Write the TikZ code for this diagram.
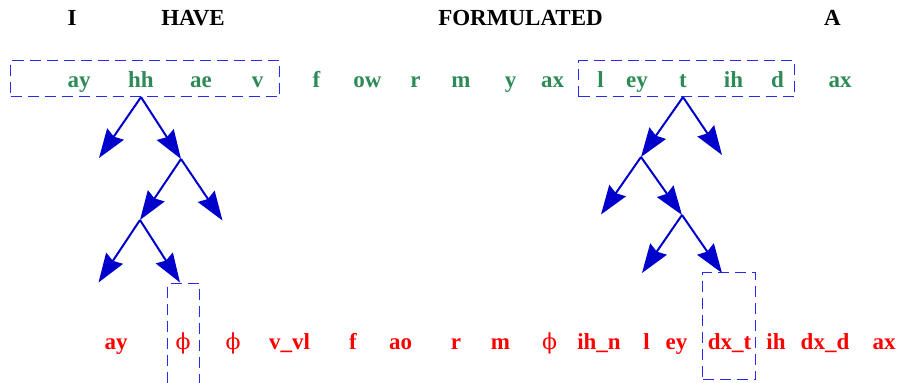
\documentclass[tikz,border=0pt]{standalone}
\usepackage{fontspec}
\setmainfont{Liberation Serif}
\newfontfamily\phifont{DejaVu Serif}
\usepackage{tikz}
\usetikzlibrary{arrows.meta}
\definecolor{PhoneGreen}{RGB}{46,139,87}
\definecolor{SurfRed}{RGB}{255,0,0}
\definecolor{TreeBlue}{RGB}{0,0,204}
\definecolor{BoxBlue}{RGB}{40,40,240}

\begin{document}
\begin{tikzpicture}[
            x=1pt, y=-1pt,
            word/.style={anchor=base, inner sep=0pt, font=\fontsize{23}{27}\selectfont\bfseries, text=black},
            phone/.style={word, text=PhoneGreen},
            surf/.style={word, text=SurfRed},
            nullph/.style={anchor=base, inner sep=0pt, font=\fontsize{22}{27}\selectfont\phifont, text=SurfRed},
            dbox/.style={draw=BoxBlue, line width=1.2pt, dash pattern=on 11pt off 6pt, inner sep=0pt},
            tarrow/.style={-{Stealth[length=29pt, width=20pt, inset=3pt]}, line width=2pt, TreeBlue}
        ]
            \useasboundingbox (0,0) rectangle (898,383);

            % dashed boxes
            \node[dbox, minimum width=269pt, minimum height=36pt] (wbox1) at (145,78.5) {};
            \node[dbox, minimum width=216pt, minimum height=36pt] (wbox2) at (686.5,78.5) {};
            \node[dbox, minimum width=32pt, minimum height=120pt] (sbox1) at (183.5,343.5) {};
            \node[dbox, minimum width=53pt, minimum height=107pt] (sbox2) at (729,326) {};

            % words
            \node[word] (wI) at (72,25) {I};
            \node[word] (wHAVE) at (193,25) {HAVE};
            \node[word] (wFORM) at (520.5,25) {FORMULATED};
            \node[word] (wA) at (832.5,25) {A};

            % dictionary phones
            \node[phone] (pay) at (79,87) {ay};
            \node[phone] (phh) at (141,87) {hh};
            \node[phone] (pae) at (201,87) {ae};
            \node[phone] (pv) at (257.5,87) {v};
            \node[phone] (pf) at (316.5,87) {f};
            \node[phone] (pow) at (367.5,87) {ow};
            \node[phone] (pr) at (415.5,87) {r};
            \node[phone] (pm) at (461,87) {m};
            \node[phone] (py) at (510.5,87) {y};
            \node[phone] (pax1) at (552.5,87) {ax};
            \node[phone] (pl) at (600.5,87) {l};
            \node[phone] (pey) at (637,87) {ey};
            \node[phone] (pt) at (683,87) {t};
            \node[phone] (pih) at (733.5,87) {ih};
            \node[phone] (pd) at (777.5,87) {d};
            \node[phone] (pax2) at (840,87) {ax};

            % surface phones
            \node[surf] (say) at (116,349) {ay};
            \node[nullph] (sphi1) at (183,349) {ϕ};
            \node[nullph] (sphi2) at (233,349) {ϕ};
            \node[surf] (svvl) at (289.5,349) {v\_vl};
            \node[surf] (sf) at (353,349) {f};
            \node[surf] (sao) at (400.5,349) {ao};
            \node[surf] (sr) at (456,349) {r};
            \node[surf] (sm) at (500.5,349) {m};
            \node[nullph] (sphi3) at (549.5,349) {ϕ};
            \node[surf] (sihn) at (599,349) {ih\_n};
            \node[surf] (sl) at (646.5,349) {l};
            \node[surf] (sey) at (676.5,349) {ey};
            \node[surf] (sdxt) at (729.5,349) {dx\_t};
            \node[surf] (sih) at (776,349) {ih};
            \node[surf] (sdxd) at (825,349) {dx\_d};
            \node[surf] (sax) at (884,349) {ax};

            % tree for HAVE
            \coordinate (t1root) at (phh |- wbox1.south);
            \coordinate (t1l) at (99,158);
            \coordinate (t1r) at (181,159);
            \coordinate (t1rl) at (140,220);
            \coordinate (t1rr) at (222.5,220.5);
            \coordinate (t1rll) at (98.5,282.5);
            \coordinate (t1rlr) at (180,282.5);

            \draw[tarrow] (t1root) -- (t1l);
            \draw[tarrow] (t1root) -- (t1r);
            \draw[tarrow] (t1r) -- (t1rl);
            \draw[tarrow] (t1r) -- (t1rr);
            \draw[tarrow] (t1rl) -- (t1rll);
            \draw[tarrow] (t1rl) -- (t1rlr);

            % tree for FORMULATED
            \coordinate (t2root) at (pt |- wbox2.south);
            \coordinate (t2l) at (641,157);
            \coordinate (t2r) at (722,155);
            \coordinate (t2ll) at (601,214.5);
            \coordinate (t2lr) at (682,215);
            \coordinate (t2lrl) at (642,273);
            \coordinate (t2lrr) at (722,273);

            \draw[tarrow] (t2root) -- (t2l);
            \draw[tarrow] (t2root) -- (t2r);
            \draw[tarrow] (t2l) -- (t2ll);
            \draw[tarrow] (t2l) -- (t2lr);
            \draw[tarrow] (t2lr) -- (t2lrl);
            \draw[tarrow] (t2lr) -- (t2lrr);

        \end{tikzpicture}
\end{document}
